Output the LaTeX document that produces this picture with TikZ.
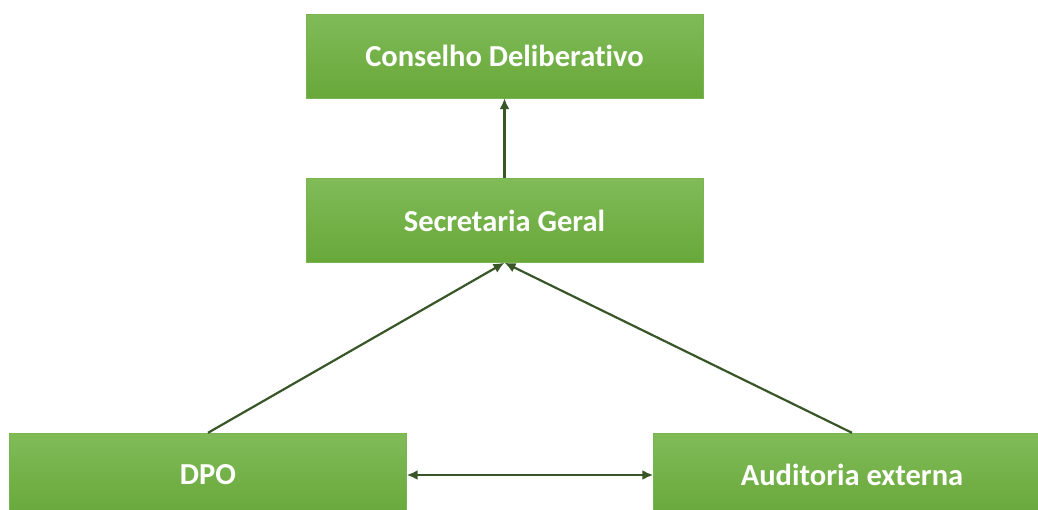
\documentclass[tikz,border=0pt]{standalone}
\usepackage{fontspec}
\setmainfont{Carlito}[Ligatures=NoCommon]
\usepackage{tikz}
\usetikzlibrary{positioning,arrows.meta}
\definecolor{boxtop}{RGB}{128,187,88}
\definecolor{boxbot}{RGB}{104,168,58}
\definecolor{boxline}{RGB}{120,180,80}
\definecolor{arrowgreen}{RGB}{56,86,40}

\tikzset{
  orgbox/.style={rectangle,top color=boxtop,bottom color=boxbot,draw=boxline,
    minimum width=397pt,minimum height=84pt,text=white,
    font=\fontsize{30.5}{35}\selectfont\bfseries},
  link/.style={line width=2.2pt,arrowgreen,-{Latex[length=11pt,width=10pt]}}
}

\begin{document}
\begin{tikzpicture}[x=1pt,y=-1pt]
        \useasboundingbox (0,0) rectangle (1038,509);
        \clip (0,0) rectangle (1038,509);
        \node[orgbox] (cons) at (504.5,56) {Conselho Deliberativo};
        \node[orgbox] (sec) at (504.5,220.5) {Secretaria Geral};
        \node[orgbox] (dpo) at (208,475) {DPO};
        \node[orgbox] (aud) at (852,475) {Auditoria externa};
        \draw[link] (sec.north)--(cons.south);
        \draw[link] (dpo.north)--(sec.south);
        \draw[link] (aud.north)--(sec.south);
        \draw[link,{Latex[length=11pt,width=10pt]}-{Latex[length=11pt,width=10pt]}] (dpo.east)--(aud.west);
    \end{tikzpicture}
\end{document}
